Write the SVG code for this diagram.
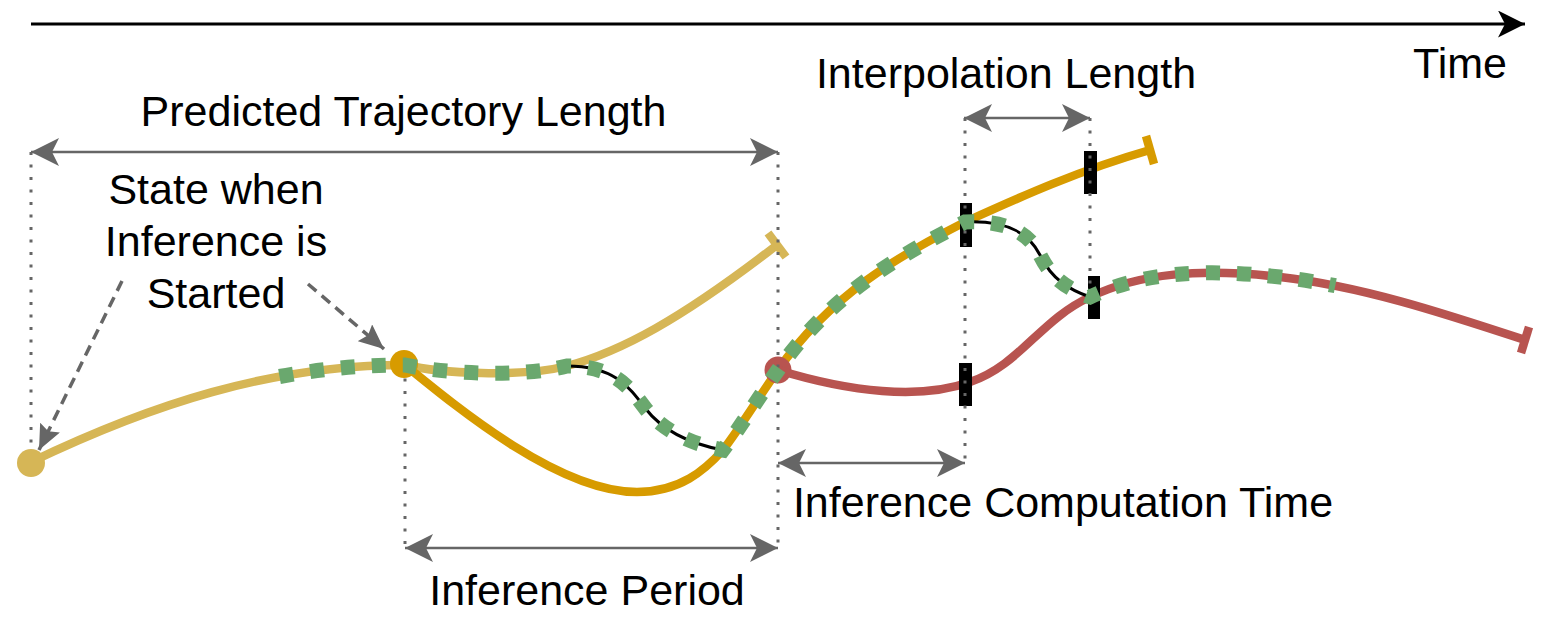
<svg xmlns="http://www.w3.org/2000/svg" width="1558" height="625" viewBox="0 0 1558 625">
  <style>
    text { font-family: "Liberation Sans", Arial, sans-serif; font-size: 43px; fill: #000; text-anchor: middle; }
    .dim { stroke: #666666; stroke-width: 2.5; fill: none; marker-start: url(#gh); marker-end: url(#gh); }
    .dot { stroke: #666666; stroke-width: 3; stroke-dasharray: 3 9.5; fill: none; }
    .dash { stroke: #666666; stroke-width: 3.5; stroke-dasharray: 11 7; fill: none; marker-end: url(#dh); }
    .traj { fill: none; stroke-width: 8.5; }
    .ly { stroke: #D6B656; }
    .or { stroke: #D79B00; }
    .rd { stroke: #B85450; }
    .interp { fill: none; stroke: #000; stroke-width: 3; }
    .exec { fill: none; stroke: #6AA86E; stroke-width: 15; stroke-dasharray: 14 17; }
    .mark { fill: #000; }
  </style>
  <defs>
    <marker id="gh" viewBox="0 0 28 28" refX="28" refY="14" markerWidth="28" markerHeight="28" markerUnits="userSpaceOnUse" orient="auto-start-reverse">
      <path d="M0,0 L28,14 L0,28 L7,14 Z" fill="#666666"/>
    </marker>
    <marker id="th" viewBox="0 0 27 27" refX="27" refY="13.5" markerWidth="27" markerHeight="27" markerUnits="userSpaceOnUse" orient="auto">
      <path d="M0,0 L27,13.5 L0,27 L7,13.5 Z" fill="#000"/>
    </marker>
    <marker id="dh" viewBox="0 0 25 22" refX="25" refY="11" markerWidth="25" markerHeight="22" markerUnits="userSpaceOnUse" orient="auto">
      <path d="M0,0 L25,11 L0,22 L4,11 Z" fill="#666666"/>
    </marker>
  </defs>

  <g id="time-axis">
    <line x1="31" y1="24" x2="1525" y2="24" stroke="#000" stroke-width="3" marker-end="url(#th)"/>
    <text x="1460" y="78">Time</text>
  </g>

  <g id="trajectory-1">
    <path class="traj ly" d="M31,462 C150,405 270,365 405,365 C440,373 520,378 567,366 C620,352 680,320 777,245"/>
    <line class="traj ly" x1="768" y1="233" x2="786" y2="257"/>
    <circle cx="31" cy="463" r="14" fill="#D6B656"/>
  </g>

  <g id="trajectory-2">
    <path class="traj or" d="M405,365 C460,410 560,492 637,492 C680,492 705,470 723,450 C740,428 760,395 778,370 C830,295 900,255 965,222 C1020,197 1080,170 1150,150"/>
    <line class="traj or" x1="1146" y1="136" x2="1154" y2="164"/>
    <circle cx="404" cy="364" r="14" fill="#D79B00"/>
  </g>

  <g id="trajectory-3">
    <circle cx="778" cy="370" r="13.5" fill="#B85450"/>
    <path class="traj rd" d="M778,370 C850,392 920,400 970,382 C1020,365 1040,320 1090,297 C1140,273 1200,268 1280,277 C1360,286 1440,312 1525,340"/>
    <line class="traj rd" x1="1529" y1="327" x2="1521" y2="353"/>
  </g>

  <g id="connectors">
    <path class="interp" d="M567,366 C615,366 630,388 645,408 C662,430 690,444 723,450"/>
    <path class="interp" d="M965,222 C1010,220 1030,235 1040,255 C1052,280 1070,290 1090,297"/>
  </g>

  <g id="interp-marks">
    <rect class="mark" x="960" y="203" width="12" height="44"/>
    <rect class="mark" x="1084" y="151" width="13" height="43"/>
    <rect class="mark" x="1088" y="276" width="12" height="43"/>
    <rect class="mark" x="959" y="363" width="13" height="43"/>
  </g>

  <g id="guides">
    <line class="dot" x1="31" y1="152" x2="31" y2="450"/>
    <line class="dot" x1="405" y1="366" x2="405" y2="548"/>
    <line class="dot" x1="778" y1="152" x2="778" y2="548"/>
    <line class="dot" x1="965" y1="118" x2="965" y2="463"/>
    <line class="dot" x1="1090" y1="118" x2="1090" y2="298"/>
  </g>

  <g id="executed">
    <path class="exec" d="M279.5,376.5 C320.1,369.1 361.8,365 405,365 C440,373 520,378 567,366 C615,366 630,388 645,408 C662,430 690,444 723,450 C740,428 760,395 778,370 C830,295 900,255 965,222 C1010,220 1030,235 1040,255 C1052,280 1070,290 1090,297 C1140,273 1200,268 1280,277 C1298.4,279.07 1316.8,282.04 1335.3,285.7"/>
  </g>

  <g id="predicted-length">
    <line class="dim" x1="31" y1="152" x2="778" y2="152"/>
    <text x="403.5" y="126">Predicted Trajectory Length</text>
  </g>

  <g id="interpolation-length">
    <line class="dim" x1="964" y1="118" x2="1090" y2="118"/>
    <text x="1006" y="88">Interpolation Length</text>
  </g>

  <g id="inference-period">
    <line class="dim" x1="405" y1="548" x2="778" y2="548"/>
    <text x="587" y="605">Inference Period</text>
  </g>

  <g id="inference-computation">
    <line class="dim" x1="778" y1="463" x2="965" y2="463"/>
    <text x="1063" y="517">Inference Computation Time</text>
  </g>

  <g id="state-label">
    <text x="216" y="204">State when</text>
    <text x="216" y="256">Inference is</text>
    <text x="216" y="308">Started</text>
    <line class="dash" x1="122" y1="281" x2="39" y2="450"/>
    <line class="dash" x1="308" y1="284" x2="384" y2="349"/>
  </g>
</svg>
